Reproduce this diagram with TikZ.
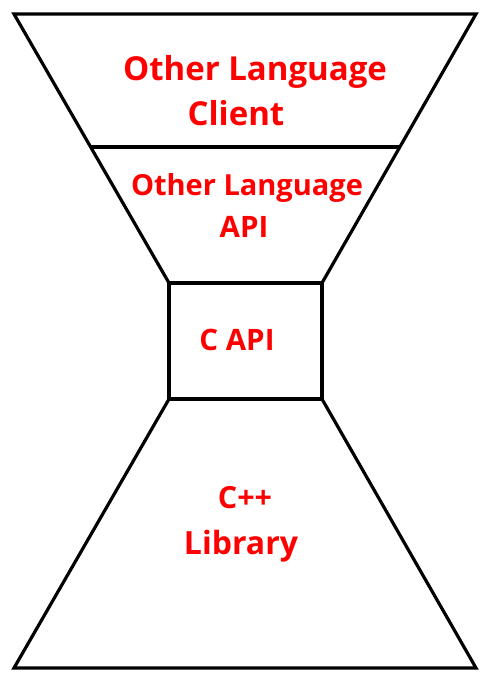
\documentclass[tikz,border=0pt]{standalone}
\usepackage{fontspec}
\setmainfont{Open Sans}
\begin{document}
\begin{tikzpicture}[x=1pt,y=-1pt,
  outline/.style={draw=black,line width=3.2pt},
  lbl/.style={text=red,font=\bfseries,inner sep=0pt,anchor=base}]
\useasboundingbox (0,0) rectangle (488,680);
\coordinate (tl) at (14,14);
\coordinate (tr) at (476,14);
\coordinate (ml) at (91,147);
\coordinate (mr) at (400,147);
\coordinate (bl) at (169,283);
\coordinate (br) at (322,283);
\coordinate (cl) at (169,399);
\coordinate (cr) at (322,399);
\coordinate (fl) at (14,668);
\coordinate (fr) at (476,668);
\draw[outline] (tl) -- (tr) -- (br) -- (bl) -- cycle;
\draw[outline] (ml) -- (mr);
\draw[outline] (bl) rectangle (cr);
\draw[outline] (cl) -- (cr) -- (fr) -- (fl) -- cycle;
\node[lbl,font=\fontsize{33}{38}\selectfont\bfseries] (t1) at (255,80) {Other Language};
\node[lbl,font=\fontsize{33}{38}\selectfont\bfseries] (t2) at (236,125) {Client};
\node[lbl,font=\fontsize{29}{34}\selectfont\bfseries] (t3) at (247,195) {Other Language};
\node[lbl,font=\fontsize{29.5}{35}\selectfont\bfseries] (t4) at (244,237) {API};
\node[lbl,font=\fontsize{29.5}{35}\selectfont\bfseries] (t5) at (237,350) {C API};
\node[lbl,font=\fontsize{30.5}{36}\selectfont\bfseries] (t6) at (245,508) {C++};
\node[lbl,font=\fontsize{32}{38}\selectfont\bfseries] (t7) at (241,554) {Library};
\end{tikzpicture}
\end{document}
